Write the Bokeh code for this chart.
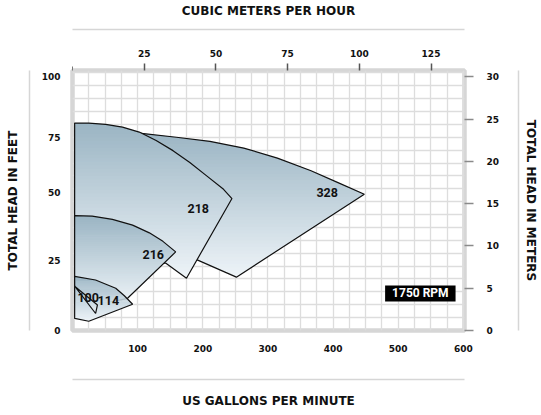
import numpy as np
from bokeh.plotting import figure
from bokeh.models import LinearAxis, Range1d, FixedTicker, Label, Grid, ColumnDataSource
from bokeh.core.properties import value
from bokeh.embed import file_html
from bokeh.resources import INLINE

# ---------------- data ----------------
impeller_labels = ["328", "218", "216", "114", "100"]
label_gpm = [391, 193, 124, 55, 24]
label_ft = [53.5, 47.4, 29.4, 11.8, 12.9]

gpm_328 = [3.3, 102.5, 159.5, 211, 263, 314.6, 366.2, 407.6, 448, 251.6, 190.5, 100, 3.3]
ft_328 = [77.7, 76.6, 75.0, 73.4, 70.8, 66.9, 62.0, 57.4, 52.9, 20.7, 27.5, 35, 35]

gpm_218 = [3.3, 25, 50.9, 76.8, 102.5, 128.4, 154.3, 180.1, 206, 231.9, 244.8, 175, 142.9, 60, 3.3]
ft_218 = [80.5, 80.5, 80.0, 78.9, 77.0, 73.7, 69.8, 65.2, 60.0, 54.8, 51.2, 20.3, 26.2, 22, 22]

gpm_216 = [3.3, 30.2, 61.3, 92.3, 118, 138.8, 158.4, 84.5, 40, 3.3]
ft_216 = [44.6, 44.4, 43.1, 40.9, 37.9, 34.6, 30.5, 12.5, 10, 10]

gpm_114 = [3.3, 35.4, 66.4, 79.6, 92.3, 25, 3.3]
ft_114 = [21.0, 19.6, 16.4, 13.5, 10.2, 3.6, 4.7]

gpm_100 = [3.3, 38.3, 35.5]
ft_100 = [17.2, 9.9, 6.6]

rpm_text = "1750 RPM"
rpm_gpm, rpm_ft = 534, 14.4

gpm_ticks = [100, 200, 300, 400, 500, 600]
m3h_ticks = [25, 50, 75, 100, 125]
ft_tick_pos = [0, 27, 53.5, 75, 98.6]
ft_tick_labels = ["0", "25", "50", "75", "100"]
m_ticks = [0, 5, 10, 15, 20, 25, 30]

title_top = "CUBIC METERS PER HOUR"
title_bottom = "US GALLONS PER MINUTE"
title_left = "TOTAL HEAD IN FEET"
title_right = "TOTAL HEAD IN METERS"

GPM_PER_M3H = 4.403
M_PER_FT = 0.3048

shapes = [(gpm_328, ft_328), (gpm_218, ft_218), (gpm_216, ft_216),
          (gpm_114, ft_114), (gpm_100, ft_100)]

# ---------------- helpers ----------------
def clip(poly, yc, keep_above):
    out = []
    n = len(poly)
    for i in range(n):
        cx, cy = poly[i]
        px, py = poly[i - 1]
        cin = cy >= yc if keep_above else cy <= yc
        pin = py >= yc if keep_above else py <= yc
        if cin != pin:
            t = (yc - py) / (cy - py)
            out.append((px + t * (cx - px), yc))
        if cin:
            out.append((cx, cy))
    return out

TOP = np.array([154, 180, 195])
BOT = np.array([238, 244, 248])

def bands(xs, ys, n=44):
    poly = list(zip(xs, ys))
    ymin, ymax = min(ys), max(ys)
    h = (ymax - ymin) / n
    bx, by, bc = [], [], []
    for i in range(n):
        lo = ymin + i * h
        hi = lo + h * 1.35
        pc = clip(clip(poly, lo, True), hi, False)
        if len(pc) < 3:
            continue
        t = (i + 0.5) / n
        c = BOT + (TOP - BOT) * t
        bx.append([q[0] for q in pc])
        by.append([q[1] for q in pc])
        bc.append("#%02x%02x%02x" % tuple(int(round(v)) for v in c))
    return bx, by, bc

# ---------------- figure ----------------
X_END = 601.8
Y_END = 100.9
p = figure(width=540, height=410, output_backend="svg", toolbar_location=None,
           x_range=Range1d(0, X_END), y_range=Range1d(0, Y_END),
           x_axis_type=None, y_axis_type=None,
           min_border_left=72, min_border_right=68, min_border_top=68, min_border_bottom=75)
p.extra_x_ranges = {"m3h": Range1d(0, X_END / GPM_PER_M3H)}
p.extra_y_ranges = {"m": Range1d(0, Y_END * M_PER_FT)}
p.background_fill_color = "white"
p.border_fill_color = "white"
p.outline_line_color = "#d6d6d6"
p.outline_line_width = 4.5

GRID = "#dddddd"
p.add_layout(Grid(dimension=0, ticker=FixedTicker(ticks=list(range(0, 601, 25))),
                  grid_line_color=GRID, grid_line_width=1.3))
p.add_layout(Grid(dimension=1, ticker=FixedTicker(ticks=list(range(0, 101, 5))),
                  grid_line_color=GRID, grid_line_width=1.3))

NUMF = "DejaVu Sans"
TITLEF = "DejaVu Sans"
SEP = "#d6d6d6"

def style_common(ax):
    ax.major_label_text_font = NUMF
    ax.major_label_text_font_style = "bold"
    ax.major_label_text_font_size = "9px"
    ax.major_label_text_color = "#111111"
    ax.minor_tick_line_color = None
    ax.axis_line_color = None

def spacer(ax, standoff, size):
    ax.axis_label = "spacer"
    ax.axis_label_text_color = None
    ax.axis_label_standoff = standoff
    ax.axis_label_text_font_size = size

def sep_axis(cls_kw, title, standoff):
    ax = LinearAxis(ticker=FixedTicker(ticks=[]), major_tick_out=0, major_tick_in=0,
                    major_label_standoff=0, axis_line_color=SEP, axis_line_width=1.5,
                    minor_tick_line_color=None, major_tick_line_color=None, **cls_kw)
    ax.axis_label = title
    ax.axis_label_standoff = standoff
    ax.axis_label_text_font = TITLEF
    ax.axis_label_text_font_style = "bold"
    ax.axis_label_text_font_size = "12px"
    ax.axis_label_text_color = "#111111"
    return ax

# bottom: US GPM
ax_b = LinearAxis(ticker=FixedTicker(ticks=gpm_ticks), major_tick_out=0, major_tick_in=0,
                  major_tick_line_color=None, major_label_standoff=14)
style_common(ax_b)
spacer(ax_b, 10, "10.7px")
p.add_layout(ax_b, "below")
p.add_layout(sep_axis({}, title_bottom, 14), "below")

# top: cubic meters per hour
ax_t = LinearAxis(x_range_name="m3h", ticker=FixedTicker(ticks=m3h_ticks, minor_ticks=[0]),
                  major_tick_out=7, major_tick_in=0, major_tick_line_color="#555555",
                  major_tick_line_width=1.5, major_label_standoff=7)
style_common(ax_t)
ax_t.minor_tick_line_color = "#777777"
ax_t.minor_tick_out = 4
ax_t.minor_tick_in = 0
spacer(ax_t, 3, "10px")
p.add_layout(ax_t, "above")
p.add_layout(sep_axis({"x_range_name": "m3h"}, title_top, 12), "above")

# left: feet
ax_l = LinearAxis(ticker=FixedTicker(ticks=ft_tick_pos), major_tick_out=0, major_tick_in=0,
                  major_tick_line_color=None, major_label_standoff=12,
                  major_label_overrides={pos: lab for pos, lab in zip(ft_tick_pos, ft_tick_labels)})
style_common(ax_l)
spacer(ax_l, 0, "5px")
p.add_layout(ax_l, "left")
p.add_layout(sep_axis({}, title_left, 10), "left")

# right: meters
ax_r = LinearAxis(y_range_name="m", ticker=FixedTicker(ticks=m_ticks), major_tick_out=9,
                  major_tick_in=0, major_tick_line_color="#8a8a8a", major_tick_line_width=1.6,
                  major_label_standoff=13)
style_common(ax_r)
spacer(ax_r, 2, "9.7px")
p.add_layout(ax_r, "right")
p.add_layout(sep_axis({"y_range_name": "m"}, title_right, 5), "right")

# ---------------- shapes ----------------
for xs, ys in shapes:
    bx, by, bc = bands(xs, ys)
    p.patches(xs=bx, ys=by, fill_color=bc, line_color=None)
    p.patch(xs, ys, fill_color=None, line_color="#111111", line_width=1.2)

CURVEF = "Roboto"
src = ColumnDataSource(dict(x=label_gpm, y=label_ft, t=impeller_labels))
p.text(x="x", y="y", text="t", source=src, text_font=value(CURVEF), text_font_style="bold",
       text_font_size="12.5px", text_align="center", text_baseline="middle", text_color="#111111")

p.add_layout(Label(x=rpm_gpm, y=rpm_ft, text=rpm_text, text_font=CURVEF, text_font_style="bold",
                   text_font_size="12px", text_color="white", text_align="center",
                   text_baseline="middle", background_fill_color="black", padding=(7, 1)))

open("out.html", "w").write(file_html(p, INLINE))
